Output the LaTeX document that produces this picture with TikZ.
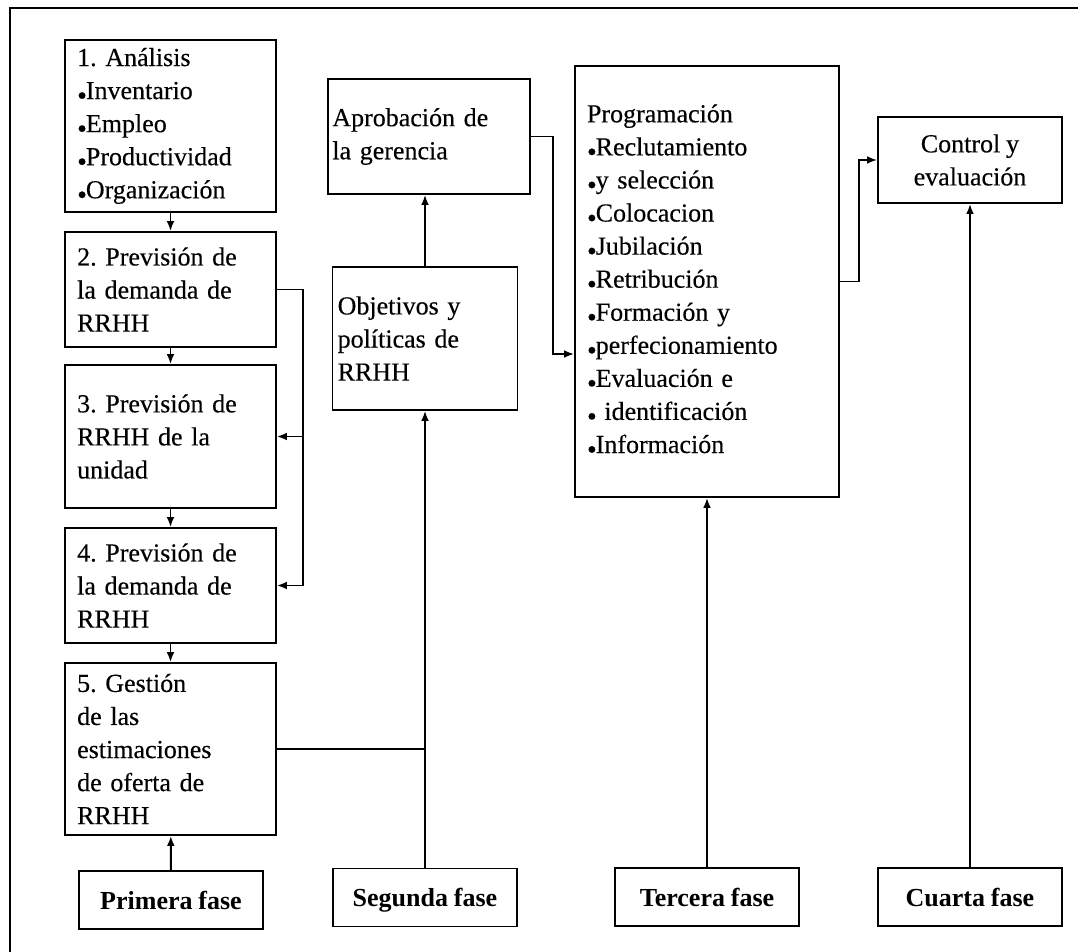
\documentclass[tikz,border=0pt]{standalone}
\usepackage{fontspec}
\setmainfont{Liberation Serif}[UprightFeatures={FakeBold=0.3},WordSpace=0.9]
\usetikzlibrary{arrows.meta}
\newcommand\bul{{\fontsize{21}{21}\selectfont\raisebox{-4.3pt}{\textbullet}\kern-0.8pt}}
\frenchspacing
\begin{document}
\begin{tikzpicture}[x=0.75pt,y=-0.75pt,
  every node/.style={font=\fontsize{19.5}{24.8}\selectfont},
  box/.style={draw,line width=1.3pt,inner sep=0pt,align=left},
  phase/.style={draw,line width=1.3pt,inner sep=0pt,align=center,
    text height=14.5pt,text depth=1pt,
    minimum width=138pt,minimum height=43.5pt,font=\fontsize{19.5}{24.8}\selectfont\bfseries},
  link/.style={line width=1.4pt},
  arr/.style={line width=1.4pt,-{Latex[length=7.5pt,width=5.8pt]}}]
\useasboundingbox (0,0) rectangle (1078,952);
% frame: top and left edges
\draw[line width=1.6pt] (1078,8) -- (10,8) -- (10,952);

% first phase column
\node[box,minimum width=158.25pt,minimum height=129pt,text width=140pt] (b1) at (170.5,126)
  {1. Análisis\\\bul Inventario\\\bul Empleo\\\bul Productividad\\\bul Organización};
\node[box,minimum width=158.25pt,minimum height=86.25pt,text width=140pt] (b2) at (170.5,289.5)
  {2. Previsión de\\la demanda de\\RRHH};
\node[box,minimum width=158.25pt,minimum height=107.25pt,text width=140pt] (b3) at (170.5,436.5)
  {3. Previsión de\\RRHH de la\\unidad};
\node[box,minimum width=158.25pt,minimum height=86.25pt,text width=140pt] (b4) at (170.5,585.5)
  {4. Previsión de\\la demanda de\\RRHH};
\node[box,minimum width=158.25pt,minimum height=129pt,text width=140pt] (b5) at (170.5,749)
  {5. Gestión\\de las\\estimaciones\\de oferta de\\RRHH};

% second phase column
\node[box,minimum width=151.5pt,minimum height=86.25pt,text width=145pt] (apr) at (429,136.5)
  {Aprobación de\\la gerencia};
\node[box,minimum width=138.75pt,minimum height=107.25pt,text width=131pt] (obj) at (425,338.5)
  {Objetivos y\\políticas de\\RRHH};

% third phase column
\node[box,minimum width=198pt,minimum height=323.25pt,text width=180pt] (prog) at (707,281.5)
  {Programación\\\bul Reclutamiento\\\bul y selección\\\bul Colocacion\\\bul Jubilación\\\bul Retribución\\\bul Formación y\\\bul perfecionamiento\\\bul Evaluación e\\\bul{} identificación\\\bul Información};

% fourth phase column
\node[box,align=center,minimum width=138pt,minimum height=64.5pt] (ctrl) at (970,160)
  {Control y\\evaluación};

% phase labels
\node[phase] (f1) at (171,900) {Primera fase};
\node[phase] (f2) at (425,897.5) {Segunda fase};
\node[phase] (f3) at (707,897) {Tercera fase};
\node[phase] (f4) at (970,897) {Cuarta fase};

% sequence of the first phase
\draw[arr] (b1) -- (b2);
\draw[arr] (b2) -- (b3);
\draw[arr] (b3) -- (b4);
\draw[arr] (b4) -- (b5);
\draw[arr] (f1) -- (b5);

% feedback from step 2 to steps 3 and 4
\path (b2.east) ++(26,0) coordinate (fb);
\draw[link] (b2.east) -- (fb);
\draw[arr] (fb) |- (b3.east);
\draw[arr] (fb) |- (b4.east);

% second phase
\path (b5.east -| f2.north) coordinate (j);
\draw[arr] (f2) -- (obj);
\draw[link] (b5.east) -- (j);
\draw[arr] (obj.north) -- (obj.north |- apr.south);

% into programming
\path (prog.west) ++(0,72.5) coordinate (pin);
\draw[arr] (apr.east) -- ++(22,0) |- (pin);
\draw[arr] (f3) -- (prog);

% into control
\draw[arr] (prog.east) -- ++(19,0) |- (ctrl.west);
\draw[arr] (f4) -- (ctrl);
\end{tikzpicture}
\end{document}
